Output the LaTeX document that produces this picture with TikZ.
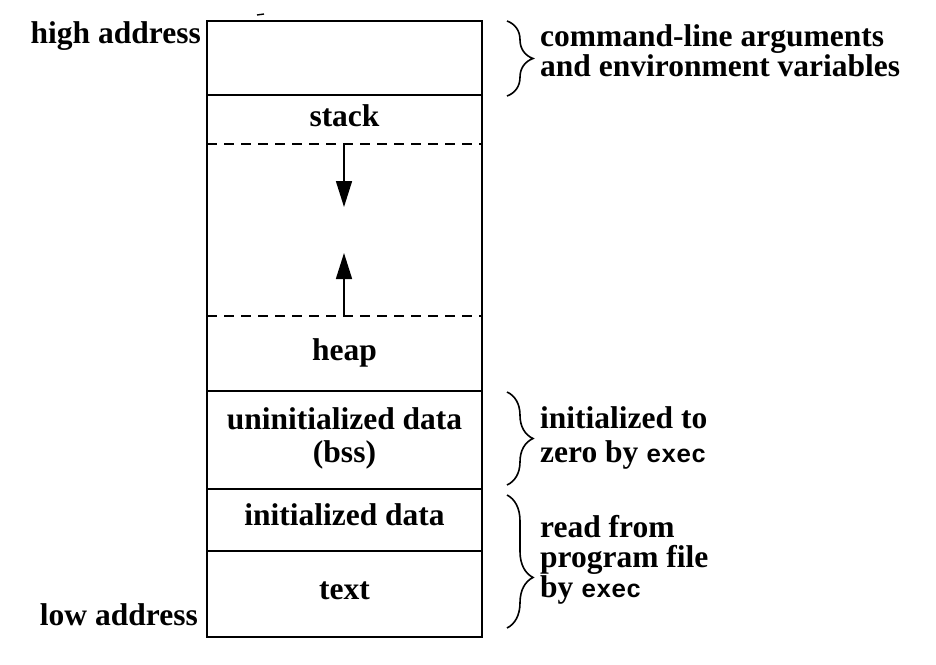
\documentclass[tikz,border=0pt]{standalone}
\usepackage{fontspec}
\setmainfont{Liberation Serif}
\setmonofont{Liberation Mono}
\usetikzlibrary{arrows.meta,decorations.pathreplacing}
\tikzset{
  lbl/.style={font=\fontsize{31.5}{30}\selectfont\bfseries, inner sep=0pt},
  sidenote/.style={lbl, align=left, anchor=base west},
  boxrule/.style={line width=1.7pt},
  dashrule/.style={line width=1.7pt, dash pattern=on 10pt off 7pt},
  growarrow/.style={line width=1.6pt, -{Triangle[length=26pt,width=16pt]}},
  curly/.style={line width=1.6pt, decorate, decoration={brace, amplitude=26pt}}
}
\newcommand{\ex}{{\fontsize{25}{30}\selectfont\ttfamily\bfseries exec}}
\begin{document}
\begin{tikzpicture}[x=1pt,y=-1pt]
\useasboundingbox (0,0) rectangle (936,664);
% memory block
\coordinate (nw) at (207,21);
\coordinate (se) at (482,637);
\draw[boxrule] (nw) rectangle (se);
\draw[boxrule] (207,95) -- (482,95);
\draw[dashrule] (207,144) -- (482,144);
\draw[dashrule] (207,316) -- (482,316);
\draw[boxrule] (207,391) -- (482,391);
\draw[boxrule] (207,489) -- (482,489);
\draw[boxrule] (207,551) -- (482,551);
\draw[line width=1.4pt] (257,15) -- (264,14);
% segment labels
\node[lbl, anchor=base] (stack) at (344.5,126) {stack};
\node[lbl, anchor=base] (heap) at (344.5,360) {heap};
\node[lbl, anchor=base, align=center, font=\fontsize{31.5}{33}\selectfont\bfseries] (bss) at (344.5,462) {uninitialized data\\(bss)};
\node[lbl, anchor=base] (idata) at (344.5,525) {initialized data};
\node[lbl, anchor=base] (text) at (344.5,599) {text};
% addresses
\node[lbl, anchor=base east] (high) at (201,43) {high address};
\node[lbl, anchor=base east] (low) at (198,625) {low address};
% growth arrows
\coordinate (sdtop) at (344,145);
\coordinate (sdtip) at (344,207);
\coordinate (hutop) at (344,316);
\coordinate (hutip) at (344,253);
\draw[growarrow] (sdtop) -- (sdtip);
\draw[growarrow] (hutop) -- (hutip);
% braces
\coordinate (b1a) at (507,21);
\coordinate (b1b) at (507,96);
\coordinate (b2a) at (507,392);
\coordinate (b2b) at (507,485);
\coordinate (b3a) at (507,495);
\coordinate (b3b) at (507,628);
\draw[curly] (b1a) -- (b1b);
\draw[curly] (b2a) -- (b2b);
\draw[curly, decoration={brace, amplitude=26pt, aspect=0.62}] (b3a) -- (b3b);
% side notes
\node[sidenote, font=\fontsize{31.5}{27}\selectfont\bfseries] (args) at (540,76) {command-line arguments\\and environment variables};
\node[sidenote, font=\fontsize{31.5}{34}\selectfont\bfseries] (zero) at (540,462) {initialized to\\zero by \ex};
\node[sidenote, font=\fontsize{31.5}{30}\selectfont\bfseries] (read) at (540,597) {read from\\program file\\by \ex};
\end{tikzpicture}
\end{document}
